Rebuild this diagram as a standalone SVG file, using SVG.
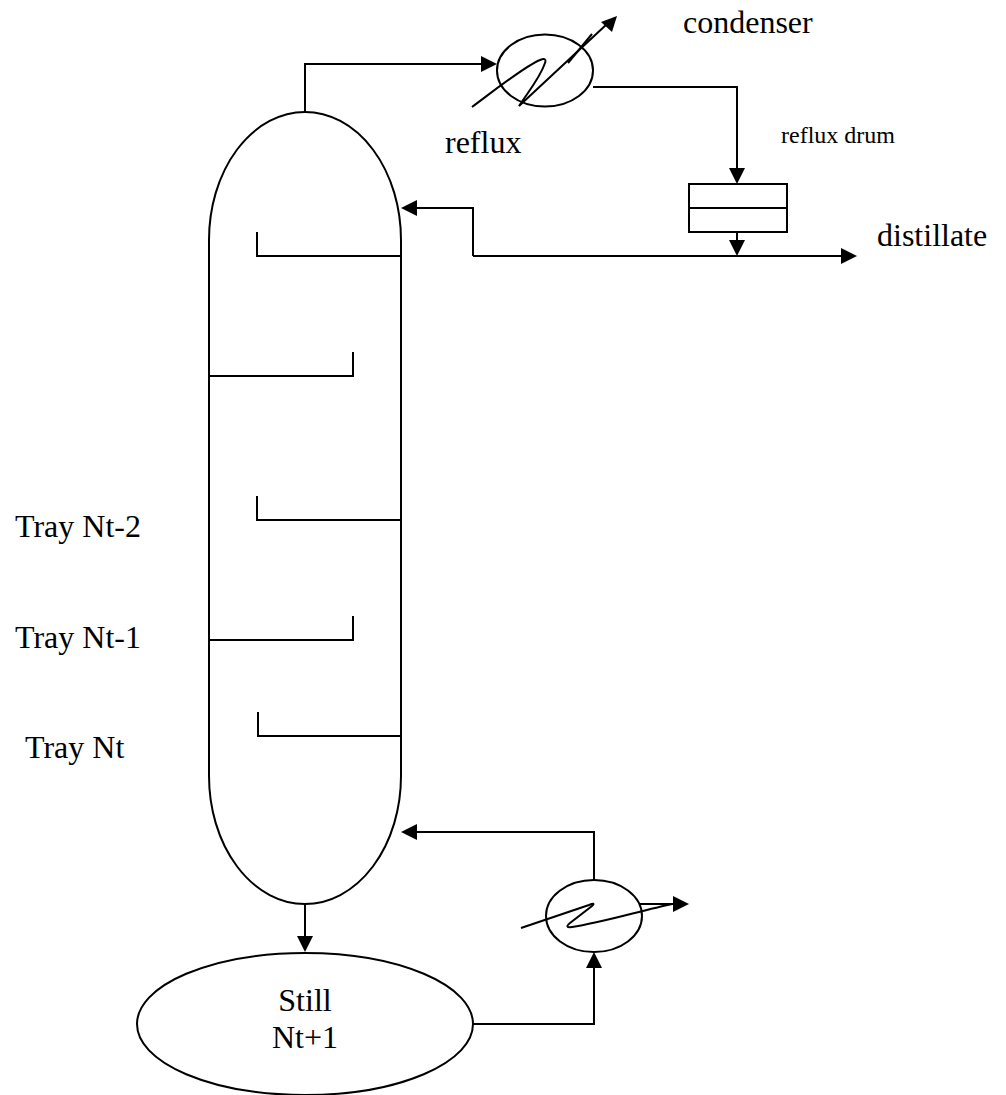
<svg xmlns="http://www.w3.org/2000/svg" width="1006" height="1095" viewBox="0 0 1006 1095">
<defs><style>
.l{fill:none;stroke:#000;stroke-width:2}
.a{fill:#000;stroke:none}
text{font-family:"Liberation Serif","Times New Roman",serif;fill:#000;font-size:32px}
</style></defs>
<rect width="1006" height="1095" fill="#fff"/>
<g id="column"><path class="l" d="M209 240A96 128 0 0 1 401 240V776A96 128 0 0 1 209 776Z"/></g>
<g id="trays">
<path class="l" d="M257 232V256H401"/>
<path class="l" d="M209 376H353V352"/>
<path class="l" d="M257 496V520H401"/>
<path class="l" d="M209 640H353V616"/>
<path class="l" d="M258 712V736H401"/>
</g>
<g id="condenser">
<ellipse class="l" cx="545" cy="70.500" rx="48" ry="36"/>
<path class="l" d="M472 107C495 90 525 66 540 60Q547 57 545 63C540 78 528 92 519 106L607 24"/>
<path class="l" d="M568 63L592 34"/>
<path class="a" d="M617 16L601 22L612 32Z"/>
</g>
<g id="reflux-drum"><rect class="l" x="689" y="184" width="98" height="48"/><path class="l" d="M689 208H787"/></g>
<g id="reboiler">
<ellipse class="l" cx="594" cy="916" rx="48" ry="36"/>
<path class="l" d="M521 928L589 905Q596 902 592 906L570 923Q564 928 572 927C600 923 640 911 672 904"/>
<path class="l" d="M640 904H674"/>
<path class="a" d="M689 904L673 896V912Z"/>
</g>
<g id="still"><ellipse class="l" cx="305" cy="1024" rx="168" ry="71"/></g>
<g id="connectors">
<path class="l" d="M305 112V64H482"/><path class="a" d="M497 64L481 56V72Z"/>
<path class="l" d="M593 87H737V168"/><path class="a" d="M737 184L729 168H745Z"/>
<path class="l" d="M737 232V246"/><path class="a" d="M737 256L729 240H745Z"/>
<path class="l" d="M473 256V208H416"/><path class="a" d="M401 208L417 200V216Z"/>
<path class="l" d="M473 256H842"/><path class="a" d="M857 256L841 248V264Z"/>
<path class="l" d="M594 880V832H416"/><path class="a" d="M401 832L417 824V840Z"/>
<path class="l" d="M473 1024H594V968"/><path class="a" d="M594 952L586 968H602Z"/>
<path class="l" d="M305 904V938"/><path class="a" d="M305 952L297 936H313Z"/>
</g>
<g id="labels">
<text x="683" y="33">condenser</text>
<text x="445" y="153">reflux</text>
<text x="781" y="143" style="font-size:24px">reflux drum</text>
<text x="877" y="246">distillate</text>
<text x="15" y="537">Tray Nt-2</text>
<text x="15" y="648">Tray Nt-1</text>
<text x="25" y="758">Tray Nt</text>
<text x="305" y="1011" text-anchor="middle">Still</text>
<text x="305" y="1048" text-anchor="middle">Nt+1</text>
</g>
</svg>
